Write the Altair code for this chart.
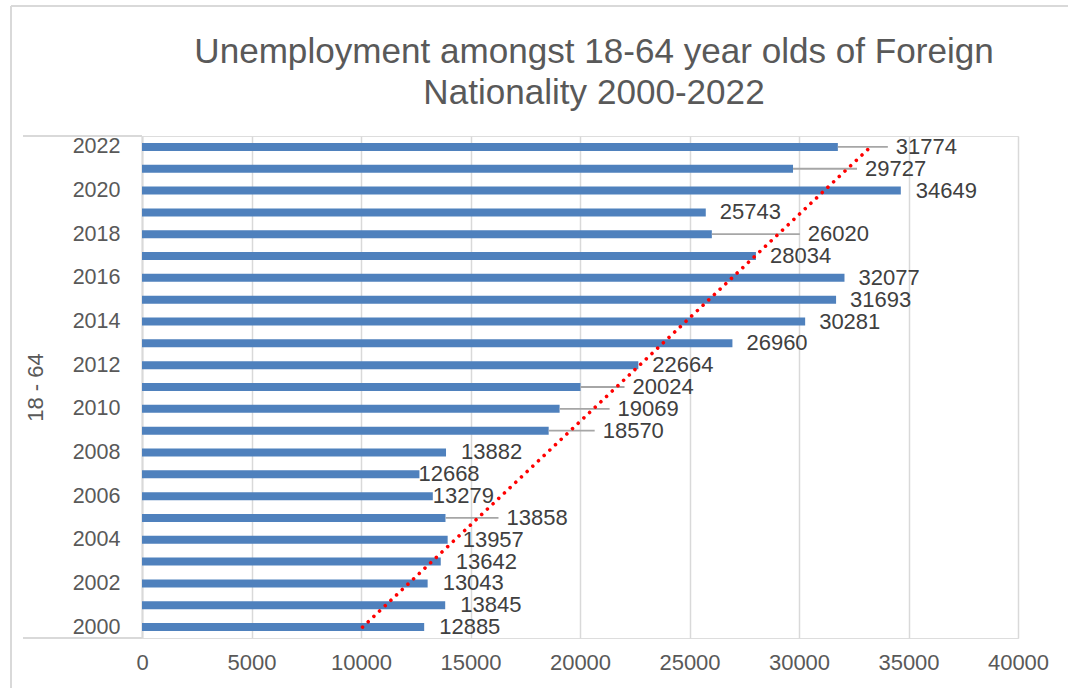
import altair as alt
import pandas as pd

# ---- data ----
years = list(range(2000, 2023))
values = [12885, 13845, 13043, 13642, 13957, 13858, 13279, 12668, 13882, 18570,
          19069, 20024, 22664, 26960, 30281, 31693, 32077, 28034, 26020, 25743,
          34649, 29727, 31774]
# horizontal shift of each data label from its bar end (pixels, layout only)
label_shift_px = [15, 15, 15, 15, 15, 61, 0, -1, 15, 54,
                  58, 52, 14, 14, 14, 14, 14, 14, 96, 14,
                  15, 72, 58]
x_ticks = list(range(0, 40001, 5000))
y_ticks = list(range(2000, 2023, 2))

title_lines = ["Unemployment amongst 18-64 year olds of Foreign", "Nationality 2000-2022"]
y_title = "18 - 64"

W, H = 876, 502
UPP = 40000 / W  # data units per pixel on x

df = pd.DataFrame({"year": years, "value": values, "shift": label_shift_px})

FONT = "Liberation Sans"
GRAY = "#595959"
LINE = "#d9d9d9"

xscale = alt.Scale(domain=[0, 40000], nice=False, zero=True)
yscale = alt.Scale(domain=[1999.5, 2022.5], nice=False, zero=False, padding=0)

base = alt.Chart(df)

bars = base.mark_bar(color="#4F81BD", size=8, orient="horizontal").encode(
    x=alt.X("value:Q", scale=xscale,
            axis=alt.Axis(values=x_ticks, format="d", title=None, grid=True,
                          gridColor=LINE, gridWidth=1.5, ticks=False, domain=False,
                          labelFontSize=22, labelColor=GRAY, labelFont=FONT,
                          labelPadding=14, labelFlush=False, labelOverlap=False)),
    x2=alt.datum(0),
    y=alt.Y("year:Q", scale=yscale,
            axis=alt.Axis(values=y_ticks, format="d", title=y_title, grid=False,
                          ticks=False, domain=True, domainColor=LINE, domainWidth=2,
                          labelFontSize=21.5, labelColor=GRAY, labelFont=FONT,
                          labelPadding=22, labelFlush=False, labelOverlap=False,
                          titleFontSize=22, titleColor=GRAY,
                          titleFont=FONT, titleFontWeight="normal",
                          titleAngle=-90, titleX=-107, titleY=H / 2,
                          titleAlign="center", titleBaseline="middle")),
)

leaders = base.transform_filter("datum.shift > 30").transform_calculate(
    lead_end=f"datum.value + (datum.shift - 8) * {UPP}"
).mark_rule(color="#a6a6a6", strokeWidth=1.8).encode(
    x=alt.X("value:Q", scale=xscale),
    x2="lead_end:Q",
    y=alt.Y("year:Q", scale=yscale),
)

labels = base.transform_calculate(
    label_x=f"datum.value + datum.shift * {UPP}"
).mark_text(align="left", baseline="middle", fontSize=22, font=FONT,
            color="#404040").encode(
    x=alt.X("label_x:Q", scale=xscale),
    y=alt.Y("year:Q", scale=yscale),
    text=alt.Text("value:Q", format="d"),
)

trend = base.transform_regression("year", "value", extent=[2000, 2022]).mark_line(
    color="#ff0000", strokeWidth=3.6, strokeDash=[0.01, 7.8], strokeCap="round"
).encode(
    x=alt.X("value:Q", scale=xscale),
    y=alt.Y("year:Q", scale=yscale),
)

one = alt.Data(values=[{}])
box_top = alt.Chart(one).mark_rule(color=LINE, strokeWidth=2).encode(
    x=alt.value(-119), x2=alt.value(0), y=alt.value(0))
box_bot = alt.Chart(one).mark_rule(color=LINE, strokeWidth=2).encode(
    x=alt.value(-119), x2=alt.value(0), y=alt.value(H))
frame_left = alt.Chart(one).mark_rule(color=LINE, strokeWidth=2).encode(
    x=alt.value(-131), y=alt.value(-130), y2=alt.value(560))
frame_top = alt.Chart(one).mark_rule(color=LINE, strokeWidth=2).encode(
    x=alt.value(-131), x2=alt.value(940), y=alt.value(-130))

title = alt.Chart(alt.Data(values=[{"t": "\n".join(title_lines)}])).mark_text(
    fontSize=35.1, font=FONT, color=GRAY, align="center", baseline="top",
    lineBreak="\n", lineHeight=41
).encode(text="t:N", x=alt.value(452), y=alt.value(-101))

chart = alt.layer(frame_left, frame_top, bars, leaders, trend, labels,
                  box_top, box_bot, title).properties(
    width=W, height=H,
    autosize=alt.AutoSizeParams(type="none"),
    padding={"left": 142, "top": 136, "right": 50, "bottom": 50},
).configure_view(stroke=None).configure(background="white")

chart.save("out.html", embed_options={"renderer": "svg", "actions": False})
